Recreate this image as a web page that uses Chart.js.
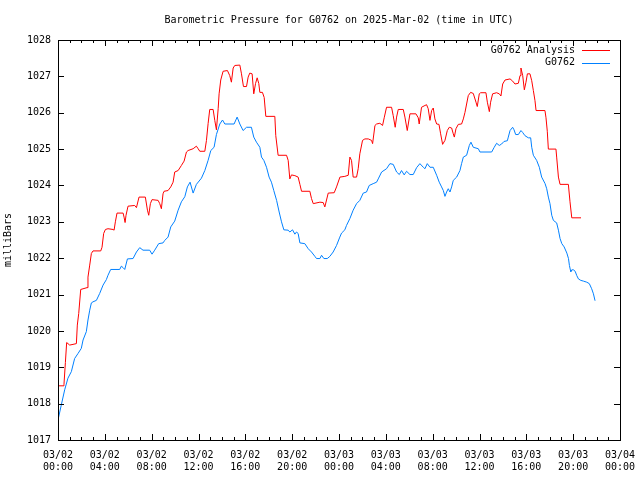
<!DOCTYPE html>
<html>
<head>
<meta charset="utf-8">
<script src="https://cdn.jsdelivr.net/npm/chart.js@4/dist/chart.umd.min.js"></script>
<style>
  html, body { margin: 0; padding: 0; background: #fff; }
  #wrap { width: 640px; height: 480px; }
</style>
</head>
<body>
<div id="wrap"><canvas id="myChart" width="640" height="480"></canvas></div>
<script>
'use strict';

// Data (hours since 03/02 00:00 UTC, millibars)

let analysisHours = [0.00, 0.43, 0.51, 0.63, 0.74, 1.00, 1.57, 1.65, 1.77, 1.94, 2.48, 2.56, 2.71, 2.85, 2.99, 3.65, 3.76, 3.90, 4.05, 4.27, 4.70, 4.79, 4.90, 5.04, 5.56, 5.64, 5.73, 5.81, 5.98, 6.55, 6.70, 6.92, 7.46, 7.64, 7.75, 7.89, 8.03, 8.55, 8.69, 8.83, 8.97, 9.06, 9.40, 9.63, 9.83, 9.97, 10.26, 10.54, 10.77, 10.97, 11.11, 11.54, 11.82, 11.97, 12.11, 12.54, 12.68, 12.82, 12.96, 13.25, 13.39, 13.53, 13.68, 13.76, 13.90, 14.10, 14.47, 14.67, 14.81, 14.96, 15.10, 15.53, 15.67, 15.84, 16.10, 16.24, 16.38, 16.58, 16.72, 16.87, 17.01, 17.15, 17.24, 17.46, 17.61, 17.75, 18.52, 18.60, 18.80, 19.52, 19.66, 19.80, 19.94, 20.23, 20.51, 20.66, 20.80, 21.51, 21.65, 21.80, 22.37, 22.65, 22.79, 23.08, 23.59, 23.79, 24.08, 24.50, 24.79, 24.93, 25.07, 25.21, 25.50, 25.64, 25.78, 26.01, 26.21, 26.50, 26.78, 26.87, 27.07, 27.21, 27.49, 27.72, 27.86, 28.06, 28.49, 28.63, 28.80, 28.92, 29.06, 29.49, 29.63, 29.83, 30.06, 30.57, 30.77, 30.85, 31.05, 31.34, 31.48, 31.62, 31.77, 31.91, 32.05, 32.19, 32.34, 32.54, 32.68, 32.85, 33.05, 33.25, 33.42, 33.62, 33.76, 33.85, 33.99, 34.19, 34.47, 34.62, 34.76, 35.04, 35.24, 35.47, 35.70, 35.81, 35.98, 36.10, 36.55, 36.67, 36.84, 36.95, 37.12, 37.46, 37.69, 37.83, 37.98, 38.18, 38.61, 38.83, 39.03, 39.32, 39.46, 39.54, 39.69, 39.83, 39.97, 40.09, 40.31, 40.46, 40.60, 40.74, 40.83, 41.59, 41.68, 41.79, 41.88, 42.53, 42.59, 42.74, 42.88, 43.59, 43.73, 43.88, 44.67];
let analysisValues = [1018.49, 1018.49, 1018.53, 1019.13, 1019.68, 1019.61, 1019.65, 1020.16, 1020.48, 1021.14, 1021.19, 1021.48, 1021.81, 1022.13, 1022.20, 1022.20, 1022.30, 1022.68, 1022.79, 1022.81, 1022.79, 1022.77, 1023.00, 1023.24, 1023.24, 1023.13, 1022.98, 1023.18, 1023.43, 1023.45, 1023.39, 1023.68, 1023.68, 1023.32, 1023.18, 1023.50, 1023.61, 1023.59, 1023.50, 1023.36, 1023.77, 1023.84, 1023.86, 1023.96, 1024.09, 1024.37, 1024.41, 1024.55, 1024.67, 1024.92, 1024.96, 1025.01, 1025.08, 1025.01, 1024.94, 1024.94, 1025.24, 1025.70, 1026.09, 1026.09, 1025.79, 1025.53, 1026.11, 1026.52, 1026.90, 1027.14, 1027.16, 1027.02, 1026.84, 1027.23, 1027.30, 1027.31, 1027.07, 1026.72, 1026.72, 1026.98, 1027.09, 1027.07, 1026.52, 1026.80, 1026.96, 1026.80, 1026.56, 1026.56, 1026.42, 1025.90, 1025.90, 1025.37, 1024.83, 1024.83, 1024.69, 1024.18, 1024.29, 1024.27, 1024.23, 1024.03, 1023.84, 1023.84, 1023.64, 1023.50, 1023.54, 1023.53, 1023.41, 1023.79, 1023.80, 1023.96, 1024.23, 1024.25, 1024.28, 1024.78, 1024.69, 1024.23, 1024.23, 1024.46, 1024.87, 1025.24, 1025.28, 1025.28, 1025.24, 1025.15, 1025.65, 1025.69, 1025.71, 1025.65, 1025.86, 1026.15, 1026.15, 1025.92, 1025.60, 1025.88, 1026.09, 1026.09, 1025.88, 1025.51, 1025.97, 1025.97, 1025.86, 1025.69, 1026.15, 1026.20, 1026.22, 1026.11, 1025.79, 1026.06, 1026.13, 1025.83, 1025.69, 1025.68, 1025.42, 1025.13, 1025.24, 1025.51, 1025.60, 1025.58, 1025.42, 1025.33, 1025.56, 1025.68, 1025.69, 1025.83, 1026.01, 1026.47, 1026.56, 1026.53, 1026.29, 1026.17, 1026.52, 1026.55, 1026.55, 1026.29, 1026.03, 1026.29, 1026.52, 1026.55, 1026.52, 1026.46, 1026.79, 1026.90, 1026.93, 1026.87, 1026.79, 1026.81, 1027.02, 1027.23, 1027.02, 1026.63, 1026.84, 1027.07, 1027.07, 1026.88, 1026.61, 1026.33, 1026.06, 1026.06, 1025.86, 1025.49, 1025.00, 1025.00, 1024.78, 1024.23, 1024.03, 1024.03, 1023.55, 1023.11, 1023.11];

let stationHours = [0.00, 0.28, 0.57, 0.85, 1.14, 1.42, 1.71, 1.99, 2.14, 2.42, 2.56, 2.71, 2.85, 2.99, 3.28, 3.56, 3.85, 4.13, 4.27, 4.50, 5.27, 5.41, 5.56, 5.70, 5.93, 6.41, 6.70, 6.98, 7.26, 7.83, 8.03, 8.26, 8.60, 8.97, 9.12, 9.40, 9.63, 9.97, 10.26, 10.54, 10.83, 11.05, 11.28, 11.54, 11.82, 12.25, 12.54, 12.82, 13.05, 13.33, 13.53, 13.82, 14.05, 14.25, 15.04, 15.30, 15.53, 15.81, 16.10, 16.52, 16.72, 16.95, 17.24, 17.38, 17.58, 17.81, 18.03, 18.23, 18.43, 18.67, 18.89, 19.09, 19.29, 19.66, 19.80, 20.03, 20.23, 20.37, 20.51, 20.66, 21.08, 21.37, 21.65, 21.94, 22.08, 22.37, 22.51, 22.71, 23.00, 23.22, 23.50, 23.79, 24.07, 24.22, 24.50, 24.64, 24.93, 25.21, 25.50, 25.78, 26.07, 26.35, 26.58, 26.92, 27.21, 27.35, 27.64, 28.06, 28.35, 28.63, 28.92, 29.15, 29.34, 29.57, 29.77, 30.06, 30.34, 30.63, 30.91, 31.20, 31.34, 31.54, 31.77, 32.05, 32.34, 32.56, 32.76, 32.91, 33.05, 33.19, 33.33, 33.48, 33.62, 33.76, 34.05, 34.33, 34.47, 34.62, 34.90, 35.13, 35.27, 35.47, 35.90, 36.04, 37.04, 37.24, 37.46, 37.69, 37.89, 38.09, 38.38, 38.46, 38.61, 38.83, 38.95, 39.09, 39.32, 39.54, 39.68, 39.88, 40.17, 40.37, 40.46, 40.60, 40.88, 41.11, 41.31, 41.60, 41.74, 41.88, 42.02, 42.17, 42.31, 42.59, 42.74, 42.88, 43.03, 43.23, 43.46, 43.60, 43.68, 43.80, 43.88, 44.02, 44.17, 44.31, 44.45, 44.65, 44.87, 45.16, 45.38, 45.58, 45.73, 45.87];
let stationValues = [1017.55, 1017.96, 1018.38, 1018.70, 1018.88, 1019.24, 1019.38, 1019.52, 1019.75, 1019.98, 1020.30, 1020.57, 1020.77, 1020.80, 1020.84, 1021.03, 1021.26, 1021.41, 1021.53, 1021.69, 1021.69, 1021.78, 1021.74, 1021.69, 1021.98, 1021.99, 1022.17, 1022.29, 1022.22, 1022.22, 1022.11, 1022.22, 1022.40, 1022.42, 1022.49, 1022.58, 1022.86, 1023.02, 1023.32, 1023.55, 1023.69, 1023.96, 1024.09, 1023.79, 1024.03, 1024.20, 1024.41, 1024.69, 1024.96, 1025.05, 1025.40, 1025.69, 1025.80, 1025.69, 1025.69, 1025.88, 1025.69, 1025.51, 1025.60, 1025.60, 1025.33, 1025.19, 1025.05, 1024.78, 1024.69, 1024.50, 1024.23, 1024.09, 1023.86, 1023.59, 1023.27, 1023.00, 1022.78, 1022.77, 1022.72, 1022.78, 1022.66, 1022.72, 1022.68, 1022.42, 1022.40, 1022.26, 1022.17, 1022.05, 1021.99, 1021.99, 1022.08, 1021.99, 1021.99, 1022.05, 1022.17, 1022.35, 1022.58, 1022.69, 1022.78, 1022.90, 1023.09, 1023.32, 1023.50, 1023.59, 1023.79, 1023.82, 1024.00, 1024.05, 1024.09, 1024.18, 1024.37, 1024.46, 1024.60, 1024.58, 1024.37, 1024.30, 1024.41, 1024.29, 1024.39, 1024.30, 1024.30, 1024.49, 1024.60, 1024.50, 1024.46, 1024.60, 1024.50, 1024.50, 1024.28, 1024.09, 1023.96, 1023.86, 1023.70, 1023.82, 1023.91, 1023.82, 1023.96, 1024.14, 1024.23, 1024.41, 1024.60, 1024.78, 1024.83, 1025.10, 1025.19, 1025.05, 1025.01, 1024.92, 1024.92, 1025.04, 1025.16, 1025.10, 1025.14, 1025.21, 1025.23, 1025.33, 1025.51, 1025.60, 1025.53, 1025.40, 1025.40, 1025.51, 1025.46, 1025.37, 1025.31, 1025.31, 1025.05, 1024.83, 1024.69, 1024.50, 1024.23, 1024.05, 1023.91, 1023.68, 1023.50, 1023.18, 1023.04, 1022.97, 1022.77, 1022.54, 1022.40, 1022.31, 1022.14, 1021.99, 1021.80, 1021.62, 1021.68, 1021.68, 1021.64, 1021.52, 1021.43, 1021.39, 1021.37, 1021.34, 1021.30, 1021.16, 1021.02, 1020.83];

let xTickLabels = [
  ['03/02', '00:00'], ['03/02', '04:00'], ['03/02', '08:00'], ['03/02', '12:00'],
  ['03/02', '16:00'], ['03/02', '20:00'], ['03/03', '00:00'], ['03/03', '04:00'],
  ['03/03', '08:00'], ['03/03', '12:00'], ['03/03', '16:00'], ['03/03', '20:00'],
  ['03/04', '00:00']
];

let seriesNames = ['G0762 Analysis', 'G0762'];
let titleText = 'Barometric Pressure for G0762 on 2025-Mar-02 (time in UTC)';

const FONT = '"DejaVu Sans Mono", "Liberation Mono", monospace';

function toPoints(xs, ys){
  let pts = [];
  for (let i = 0; i < xs.length; i++) {
    pts.push({x: xs[i], y: ys[i]});
  }
  return pts;
}

// gnuplot-like frame: border, inward ticks (majors + hourly minors), title, legend
const gnuplotFrame = {
  id: 'gnuplotFrame',
  afterDraw(chart){
    const ctx = chart.ctx;
    const a = chart.chartArea;
    const xs = chart.scales.x;
    const ys = chart.scales.y;
    ctx.save();
    ctx.strokeStyle = '#000';
    ctx.lineWidth = 1;
    ctx.beginPath();
    // x ticks (hourly minors, 4-hour majors) on bottom and top
    for (let h = 0; h <= 48; h++) {
      let px = Math.round(xs.getPixelForValue(h)) + 0.5;
      let len = (h % 4 === 0) ? 6 : 3;
      ctx.moveTo(px, a.bottom);
      ctx.lineTo(px, a.bottom - len);
      ctx.moveTo(px, a.top);
      ctx.lineTo(px, a.top + len);
    }
    // y ticks on left and right
    for (let v = 1017; v <= 1028; v++) {
      let py = Math.round(ys.getPixelForValue(v)) + 0.5;
      ctx.moveTo(a.left, py);
      ctx.lineTo(a.left + 6, py);
      ctx.moveTo(a.right, py);
      ctx.lineTo(a.right - 6, py);
    }
    ctx.stroke();
    ctx.strokeRect(Math.round(a.left) + 0.5, Math.round(a.top) + 0.5,
      Math.round(a.right - a.left), Math.round(a.bottom - a.top));

    // title centered over the plot
    ctx.fillStyle = '#000';
    ctx.font = '10px ' + FONT;
    ctx.textAlign = 'center';
    ctx.textBaseline = 'middle';
    ctx.fillText(titleText, (a.left + a.right) / 2, 20);

    // legend, text right-aligned with line sample to the right
    ctx.textAlign = 'right';
    chart.data.datasets.forEach(function(ds, i){
      let y = a.top + 10 + i * 12.5;
      ctx.fillStyle = '#000';
      ctx.fillText(ds.label, a.right - 45, y);
      ctx.strokeStyle = ds.borderColor;
      ctx.beginPath();
      ctx.moveTo(a.right - 38, Math.round(y) + 0.5);
      ctx.lineTo(a.right - 10, Math.round(y) + 0.5);
      ctx.stroke();
    });
    ctx.restore();
  }
};

const data = {
  datasets: [{
    label: seriesNames[0],
    data: toPoints(analysisHours, analysisValues),
    borderColor: '#ff0000',
    borderWidth: 1,
    pointRadius: 0,
    tension: 0
  },{
    label: seriesNames[1],
    data: toPoints(stationHours, stationValues),
    borderColor: '#0080ff',
    borderWidth: 1,
    pointRadius: 0,
    tension: 0
  }]
};

const config = {
  type: 'line',
  data: data,
  options: {
    responsive: false,
    animation: false,
    layout: {
      padding: {top: 40, right: 20, left: 0, bottom: 0}
    },
    plugins: {
      legend: {display: false},
      title: {display: false},
      tooltip: {enabled: false}
    },
    scales: {
      x: {
        type: 'linear',
        min: 0,
        max: 48,
        grid: {display: false, drawTicks: false},
        border: {display: false},
        afterFit: function(scale){
          scale.height = 40;
          scale.paddingLeft = 0;
          scale.paddingRight = 0;
        },
        ticks: {
          stepSize: 4,
          maxRotation: 0,
          autoSkip: false,
          padding: 9,
          color: '#000',
          font: {family: FONT, size: 10, lineHeight: 1.2},
          callback: function(value){
            return xTickLabels[Math.round(value / 4)];
          }
        }
      },
      y: {
        min: 1017,
        max: 1028,
        grid: {display: false, drawTicks: false},
        border: {display: false},
        afterFit: function(scale){
          scale.width = 58;
          scale.paddingTop = 0;
          scale.paddingBottom = 0;
        },
        title: {
          display: true,
          text: 'milliBars',
          color: '#000',
          padding: {top: 2, bottom: 0},
          font: {family: FONT, size: 10}
        },
        ticks: {
          stepSize: 1,
          padding: 7,
          color: '#000',
          font: {family: FONT, size: 10},
          callback: function(value){ return String(value); }
        }
      }
    }
  },
  plugins: [gnuplotFrame]
};

const myChart = new Chart(document.getElementById('myChart'), config);
</script>
</body>
</html>
